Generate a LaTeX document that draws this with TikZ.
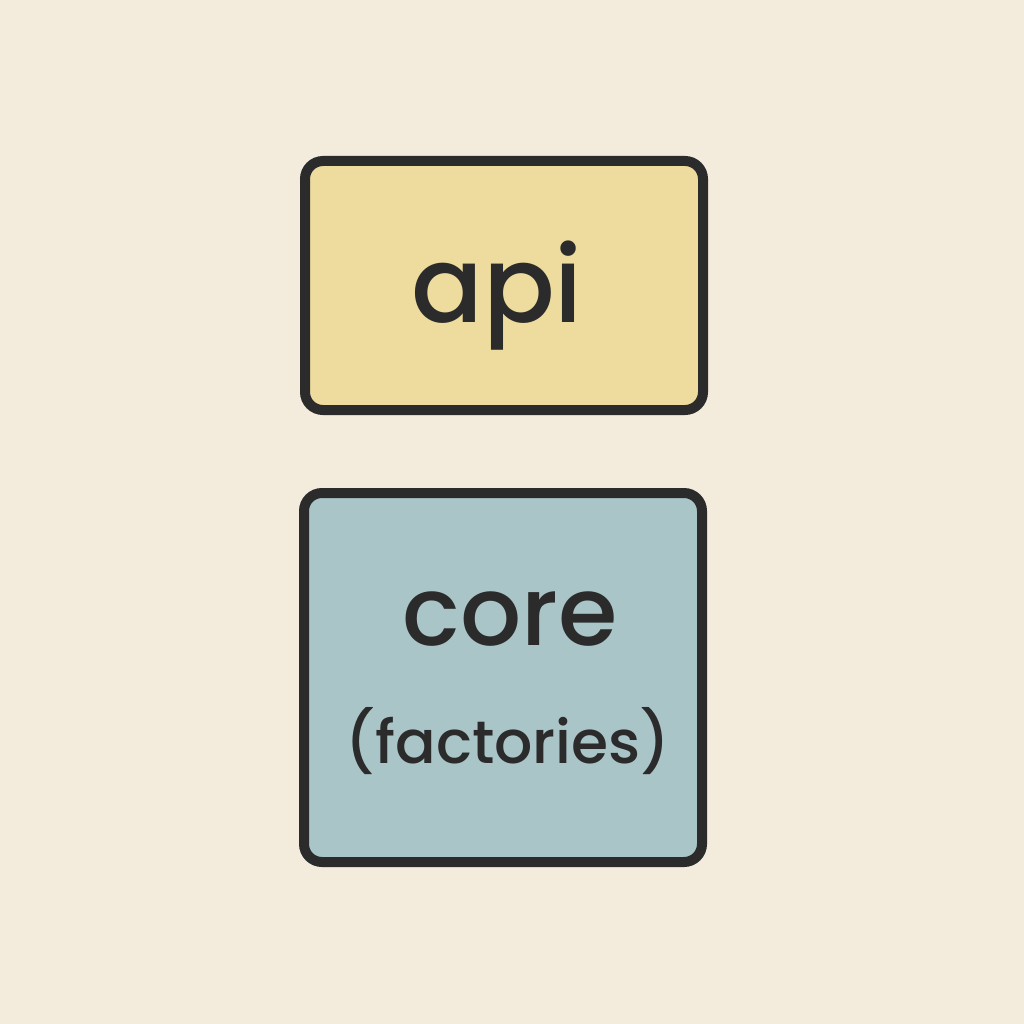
\documentclass[tikz,border=0pt]{standalone}
\usepackage{fontspec}
\setmainfont{Poppins}[UprightFont=* Medium, BoldFont=* SemiBold]
\definecolor{bgcol}{HTML}{F3EBDC}
\definecolor{apicol}{HTML}{EEDC9F}
\definecolor{corecol}{HTML}{A9C5C8}
\definecolor{inkcol}{HTML}{2B2B2B}
\tikzset{
  boxstyle/.style={draw=inkcol, line width=10pt, rounded corners=18pt},
  lbl/.style={inner sep=0pt, text=inkcol, anchor=base}
}
\begin{document}
\begin{tikzpicture}[x=1pt,y=-1pt]
\fill[bgcol] (0,0) rectangle (1024,1024);
\useasboundingbox (0,0) rectangle (1024,1024);
\draw[boxstyle, fill=apicol] (305,161) rectangle (703,410);
\draw[boxstyle, fill=corecol] (304,493) rectangle (702,862);
\node[lbl] (api) at (497,322) {\fontsize{106}{110}\selectfont api};
\node[lbl] (core) at (510,645) {\fontsize{96}{100}\selectfont core};
\node[lbl] (fact) at (508,763) {\fontsize{60}{64}\selectfont (factories)};
\end{tikzpicture}
\end{document}
